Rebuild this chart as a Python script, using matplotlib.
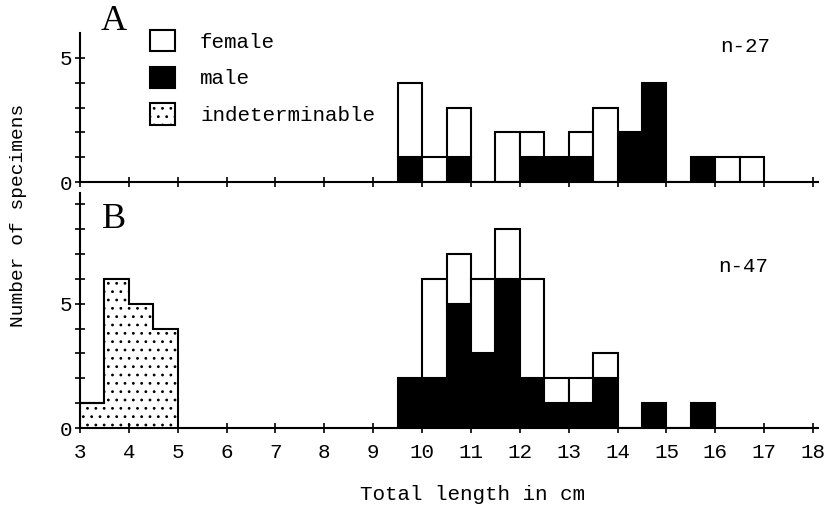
import matplotlib
matplotlib.use("Agg")
import matplotlib.pyplot as plt
from matplotlib.patches import Patch

# bins are 0.5 cm wide, values are counts per bin (left edge given)
binsA = [9.5, 10, 10.5, 11, 11.5, 12, 12.5, 13, 13.5, 14, 14.5, 15, 15.5, 16, 16.5]
maleA = [1, 0, 1, 0, 0, 1, 1, 1, 0, 2, 4, 0, 1, 0, 0]
femaleA = [3, 1, 2, 0, 2, 1, 0, 1, 3, 0, 0, 0, 0, 1, 1]

binsB = [9.5, 10, 10.5, 11, 11.5, 12, 12.5, 13, 13.5, 14, 14.5, 15, 15.5]
maleB = [2, 2, 5, 3, 6, 2, 1, 1, 2, 0, 1, 0, 1]
femaleB = [0, 4, 2, 3, 2, 4, 1, 1, 1, 0, 0, 0, 0]

indet_edges = [3, 3.5, 4, 4.5, 5]
indetB = [1, 6, 5, 4]

xticks = list(range(3, 19))

mono = "Liberation Mono"
serif = "Liberation Serif"
plt.rcParams["hatch.linewidth"] = 0.8

fig = plt.figure(figsize=(8.26, 5.05), dpi=100)
W, H = 826, 505
axA = fig.add_axes([80 / W, 1 - 182 / H, 738 / W, 149 / H])
axB = fig.add_axes([80 / W, 1 - 428 / H, 738 / W, 235 / H])


def draw(ax, bins, male, female):
    ax.bar(bins, male, width=0.5, align="edge", color="black",
           edgecolor="black", linewidth=1.5)
    for x, m, f in zip(bins, male, female):
        if f > 0:
            ax.bar(x, f, bottom=m, width=0.5, align="edge", color="white",
                   edgecolor="black", linewidth=1.5)


draw(axA, binsA, maleA, femaleA)
draw(axB, binsB, maleB, femaleB)
axB.stairs(indetB, indet_edges, fill=True, facecolor="white",
           edgecolor="black", hatch="..", linewidth=0)
axB.stairs(indetB, indet_edges, fill=False, edgecolor="black", linewidth=1.5)
axB.plot([3, 3.5], [1, 1], color="black", lw=1.5)

for ax, ymax, nt in [(axA, 6.0, 6), (axB, 9.45, 10)]:
    ax.set_xlim(3, 18.1)
    ax.set_ylim(0, ymax)
    for s in ["top", "right"]:
        ax.spines[s].set_visible(False)
    for s in ["left", "bottom"]:
        ax.spines[s].set_linewidth(1.5)
    ax.set_yticks(range(nt))
    ax.set_yticklabels(["0" if v == 0 else ("5" if v == 5 else "")
                        for v in range(nt)], fontfamily=mono, fontsize=15)
    ax.set_xticks(xticks)
    ax.tick_params(direction="inout", length=7, width=1.2, pad=2)
    ax.set_facecolor("none")

axA.set_xticklabels([])
axB.set_xticklabels([str(v) for v in xticks], fontfamily=mono, fontsize=15)
axB.tick_params(axis="x", pad=7)

fig.text(114 / W, 1 - 22 / H, "A", fontfamily=serif, fontsize=26,
         ha="center", va="center")
fig.text(114 / W, 1 - 220 / H, "B", fontfamily=serif, fontsize=26,
         ha="center", va="center")
fig.text(745 / W, 1 - 47 / H, "n-27", fontfamily=mono, fontsize=15,
         ha="center", va="center")
fig.text(743 / W, 1 - 266 / H, "n-47", fontfamily=mono, fontsize=15,
         ha="center", va="center")

fig.text(19 / W, 1 - 215 / H, "Number of specimens", fontfamily=mono,
         fontsize=14, rotation=90, ha="center", va="center")
fig.text(473 / W, 1 - 494 / H, "Total length in cm", fontfamily=mono,
         fontsize=15, ha="center", va="center")

handles = [Patch(facecolor="white", edgecolor="black", linewidth=1.5),
           Patch(facecolor="black", edgecolor="black", linewidth=1.5),
           Patch(facecolor="white", edgecolor="black", linewidth=1.5, hatch="..")]
axA.legend(handles, ["female", "male", "indeterminable"],
           loc="upper left", bbox_to_anchor=(150 / W, 1 - 30 / H),
           bbox_transform=fig.transFigure, frameon=False,
           prop={"family": mono, "size": 15}, handlelength=1.2,
           handleheight=1.2, labelspacing=0.72, handletextpad=1.2,
           borderpad=0, borderaxespad=0)

fig.savefig("out.png", dpi=100, facecolor="white")
